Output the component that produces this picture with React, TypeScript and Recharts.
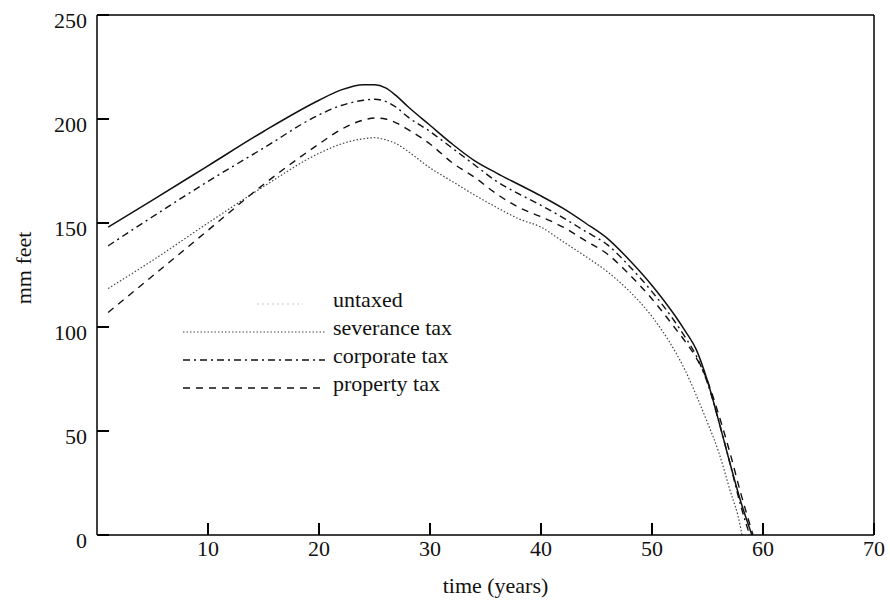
import React from "react";
import {
  LineChart,
  Line,
  XAxis,
  YAxis,
  ReferenceLine,
  Legend,
  Label,
} from "recharts";

const seriesNames = ["untaxed", "severance tax", "corporate tax", "property tax"];

// years shared by every curve, each curve then hits zero at its own year
const years = [1, 5, 10, 15, 20, 22, 24, 25, 26, 27, 28, 30, 32, 34, 36, 38, 40, 42, 44, 46, 48, 50, 52, 53, 54, 55, 56, 57, 58];
const untaxed = [148, 161, 177.5, 194, 209, 214, 216.5, 216.5, 215, 211, 206, 197, 188, 180, 174, 168.5, 163, 157, 150, 142.5, 132, 120, 106, 98, 89, 74, 55, 35, 16];
const severance = [118.5, 132, 150, 167.5, 183.5, 188, 190.5, 191, 190, 188, 184.5, 176.5, 170, 163.5, 157.5, 152, 148, 141, 134, 126.5, 117, 105, 89, 79, 67, 54, 40, 22, 3];
const corporate = [139, 153, 170, 186, 202, 206.5, 209, 209.5, 208.5, 205.5, 201, 194, 186, 178, 170, 164, 158.5, 152.5, 146, 139.5, 129, 117, 103, 95, 86, 73, 55, 35, 14];
const property = [107, 124.5, 146.5, 168.5, 188, 195, 199.5, 200.5, 200, 198, 195, 188, 179, 172, 164, 157.5, 153, 148, 141.5, 135, 125, 113.5, 100, 93, 85, 74, 58, 40, 20];
const zeroYears = [59, 58.1, 58.8, 59.1];

const xTicks = [10, 20, 30, 40, 50, 60, 70];
const yTicks = [0, 50, 100, 150, 200, 250];

const seriesValues = [untaxed, severance, corporate, property];

const FONT = "'Liberation Serif', 'Times New Roman', serif";
const TS = 10; // axis tickSize: tick x/y arrive TS px outside the axis line
const TICK_IN = 12;

const lineStyles = [
  { stroke: "#111", width: 1.5, dash: undefined },
  { stroke: "#444", width: 1.2, dash: "1.5 2" },
  { stroke: "#111", width: 1.4, dash: "7 4 2 4" },
  { stroke: "#111", width: 1.4, dash: "7 6" },
];

const seriesData = seriesValues.map((vals, i) => [
  ...years.map((t, j) => ({ t, v: vals[j] })),
  { t: zeroYears[i], v: 0 },
]);

// inward tick mark drawn as a thin rect, label pulled back outside
const YTick = (props: any) => {
  const ax = Number(props.x) + TS;
  const py = Number(props.y);
  return (
    <g>
      <rect x={ax} y={py - 1} width={TICK_IN} height={2} fill="#000" />
      <text x={ax - 10} y={py + 13} textAnchor="end" fontFamily={FONT} fontSize={22} fill="#111">
        {props.payload.value}
      </text>
    </g>
  );
};

const XTick = (props: any) => {
  const px = Number(props.x);
  const ay = Number(props.y) - TS;
  return (
    <g>
      <rect x={px - 1} y={ay - TICK_IN} width={2} height={TICK_IN} fill="#000" />
      <text x={px} y={ay + 21} textAnchor="middle" fontFamily={FONT} fontSize={22} fill="#111">
        {props.payload.value}
      </text>
    </g>
  );
};

const YTitle = ({ viewBox }: any) => {
  const x = viewBox.x + 31;
  const y = 268;
  return (
    <text
      x={x}
      y={y}
      transform={`rotate(-90, ${x}, ${y})`}
      textAnchor="middle"
      fontFamily={FONT}
      fontSize={22}
      fill="#111"
    >
      mm feet
    </text>
  );
};

const XTitle = ({ viewBox }: any) => (
  <text
    x={viewBox.x + viewBox.width / 2 + 10}
    y={viewBox.y + 58}
    textAnchor="middle"
    fontFamily={FONT}
    fontSize={22}
    fill="#111"
  >
    time (years)
  </text>
);

const LegendBox = () => (
  <svg width={330} height={130}>
    {seriesNames.map((name, i) => {
      const base = 27 + i * 28;
      const s = lineStyles[i];
      // the untaxed sample is barely printed in the original
      const faint = i === 0;
      return (
        <g key={name}>
          <line
            x1={faint ? 77 : 3}
            x2={faint ? 123 : 145}
            y1={base - 3}
            y2={base - 3}
            stroke={faint ? "#c8c8c8" : s.stroke}
            strokeWidth={faint ? 1.2 : s.width}
            strokeDasharray={faint ? "2 3" : s.dash}
          />
          <text x={153} y={base} fontFamily={FONT} fontSize={22} fill="#111">
            {name}
          </text>
        </g>
      );
    })}
  </svg>
);

export default function App() {
  return (
    <div style={{ position: "absolute", left: 0, top: 0, width: 890, height: 601, background: "#fff" }}>
      <LineChart width={890} height={601} margin={{ top: 15, right: 16, bottom: 0, left: 0 }}>
        <XAxis
          dataKey="t"
          type="number"
          domain={[0, 70]}
          ticks={xTicks}
          height={66}
          tickLine={{ stroke: "none" }}
          tickSize={TS}
          tickMargin={0}
          tick={<XTick />}
          axisLine={{ stroke: "#000", strokeWidth: 1.5 }}
        >
          <Label content={<XTitle />} />
        </XAxis>
        <YAxis
          type="number"
          domain={[0, 250]}
          ticks={yTicks}
          width={97}
          tickLine={{ stroke: "none" }}
          tickSize={TS}
          tickMargin={0}
          tick={<YTick />}
          axisLine={{ stroke: "#000", strokeWidth: 1.5 }}
        >
          <Label content={<YTitle />} />
        </YAxis>
        <ReferenceLine y={250} stroke="#000" strokeWidth={1.5} />
        <ReferenceLine x={70} stroke="#000" strokeWidth={1.5} />
        <Legend
          layout="horizontal"
          verticalAlign="middle"
          align="center"
          content={<LegendBox />}
          wrapperStyle={{ left: 180, top: 280, width: 330, height: 130 }}
        />
        {seriesData.map((d, i) => (
          <Line
            key={seriesNames[i]}
            name={seriesNames[i]}
            data={d}
            dataKey="v"
            type="monotone"
            stroke={lineStyles[i].stroke}
            strokeWidth={lineStyles[i].width}
            strokeDasharray={lineStyles[i].dash}
            dot={false}
            activeDot={false}
            isAnimationActive={false}
          />
        ))}
      </LineChart>
    </div>
  );
}
